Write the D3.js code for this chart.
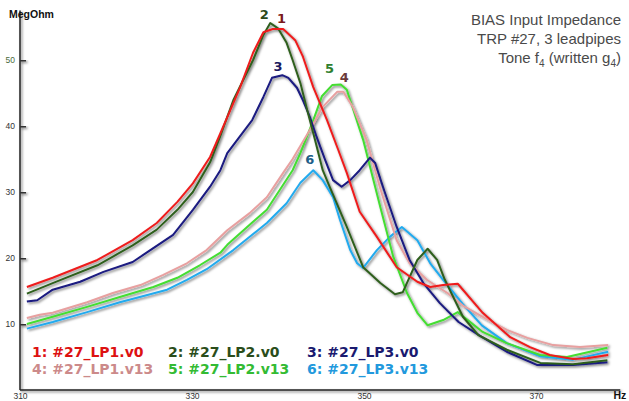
<!DOCTYPE html>
<html><head><meta charset="utf-8">
<script src="https://cdn.jsdelivr.net/npm/d3@7"></script>
<style>html,body{margin:0;padding:0;background:#fff;}svg{display:block;}</style>
</head><body>
<svg id="chart" width="629" height="401"></svg>
<script>
// ---- data ----
const seriesNames = ["1: #27_LP1.v0","2: #27_LP2.v0","3: #27_LP3.v0","4: #27_LP1.v13","5: #27_LP2.v13","6: #27_LP3.v13"];
const peakLabels = ["1","2","3","4","5","6"];
// label anchors [Hz, MegOhm]
const peakLabelPos = [[340.4,55.6],[338.4,56.2],[340.0,48.3],[347.7,46.7],[346.0,48.0],[343.7,34.2]];
const xTicks = [310,330,350,370];
const yTicks = [10,20,30,40,50];

const s1 = [[310.8,15.6],[313.8,17.0],[319,19.7],[323.1,22.7],[325.9,25.3],[328.3,28.5],[330.1,31.3],[332.1,35.3],[333.3,38.9],[335.6,45.9],[337.1,51.1],[338.3,54.2],[339.4,54.7],[340.6,54.7],[342,53],[342.9,50.5],[344.1,45.9],[345.7,40.9],[347.0,36.4],[348,32.9],[349.5,27],[351.5,23.2],[353.8,18.6],[356.2,16.4],[357.7,15.6],[359.2,15.9],[360.9,16.1],[363.8,11.7],[367,8.0],[369.3,6.5],[371.6,5.3],[374.3,4.7],[375.9,4.8],[378.4,5.3]];
const s2 = [[310.8,14.6],[313.8,16.2],[319,18.9],[323.1,21.9],[325.9,24.3],[328.3,27.3],[330.1,30.0],[332.1,34.5],[333.3,38.5],[334.8,43.9],[337.1,50.0],[338.3,53.8],[339.1,55.6],[340,54.8],[341,52.6],[341.7,50],[342.6,46.5],[343.4,42.4],[344.3,37.9],[345.2,33.3],[346,30.8],[348,24.7],[349.9,18.6],[351.9,16.2],[353.6,14.5],[354.5,14.8],[356.2,19.7],[357.4,21.4],[358.5,19.7],[359.4,16.7],[361.5,11.1],[363.3,8.3],[366.6,6.1],[370.5,4.1],[374.3,3.9],[378.3,4.5]];
const s3 = [[310.8,13.4],[312,13.6],[313.8,15.2],[317,16.4],[319.7,17.9],[323.1,19.4],[325.5,21.5],[327.8,23.5],[330.1,27.3],[332.1,30.8],[333.3,33.3],[334.1,35.9],[337,40.9],[338.3,44.4],[339.3,47.3],[340.5,47.7],[341.2,47.3],[342.2,45.8],[342.9,43.9],[343.7,41.4],[344.5,38.3],[345.5,34.8],[346.4,31.8],[347.4,30.8],[348.4,31.8],[349.5,33.3],[350.7,35.2],[351.3,34.4],[352.2,30.8],[353.8,24.7],[355.3,19.7],[356.9,16.2],[358.8,13.2],[361,10.3],[363.5,8.2],[366.6,5.8],[370.1,3.8],[374.3,3.8],[378.3,4.2]];
const s4 = [[310.8,10.9],[312.3,11.4],[313.8,11.7],[317.8,13.3],[320.8,14.7],[324,15.9],[326.6,17.4],[329.4,19.2],[331.7,21.2],[334.1,24.2],[336.7,26.8],[338.7,29.2],[340.6,32.9],[341.7,35.0],[343.7,39.4],[345.2,42.9],[346.9,45.2],[347.6,45.2],[348.7,42.9],[350.3,37.9],[351.9,30.5],[353.8,22.7],[355.3,19.2],[357.3,16.7],[359.7,14.7],[361.5,12.8],[363.5,11.3],[366.6,9.1],[369,7.9],[372,6.8],[375.1,6.5],[378.4,6.8]];
const s5 = [[310.8,10.0],[313.8,11.1],[317.8,12.6],[321.6,14.1],[325.5,15.6],[328.3,17.0],[330.9,18.9],[333.3,20.8],[334.1,22.0],[337.1,25.5],[338.7,27.3],[340.2,30.3],[341.7,33.3],[342.6,35.9],[344,40.5],[345.1,44.5],[346.3,46.2],[347.3,46.3],[348.0,45.5],[349.9,37.9],[351.9,27.7],[353.4,20.2],[355,14.7],[356.2,11.7],[357.4,9.8],[359.2,10.6],[360.9,11.8],[363.8,8.8],[366.6,7.1],[370.5,5.3],[373.6,5.0],[378.3,6.4]];
const s6 = [[310.8,9.3],[313.8,10.3],[317.8,11.8],[321.6,13.3],[324.8,14.4],[327.1,15.2],[329.4,16.7],[331.7,18.3],[334.8,21.2],[338.7,25.3],[341,28.3],[342.6,31.4],[344.1,33.3],[345.2,31.8],[346.4,29.2],[347.2,25.8],[348.4,21.2],[349.2,19.2],[349.9,18.5],[351.5,21.2],[353,23.2],[354.4,24.7],[356.2,22.7],[357.7,19.2],[359.2,16.7],[361.5,13.0],[363.7,9.8],[366.6,7.1],[370.5,5.1],[374.3,4.6],[378.4,5.8]];
const seriesData = [s1,s2,s3,s4,s5,s6];

const lineColors = ["#ee1c1c","#2f5f1f","#1a1a80","#e8a0a0","#44dd33","#22aaee"];
const legendColors = ["#dd1111","#2a4d1a","#1a1a70","#cc8a8a","#33bb33","#2299dd"];
const labelColors = ["#7a1a1a","#2a4a1a","#1a1a60","#6a3a3a","#2f7f2f","#1f5f88"];

// ---- chart ----
const svg = d3.select("#chart");
const defs = svg.append("defs");
const f = defs.append("filter").attr("id","sh").attr("filterUnits","userSpaceOnUse")
  .attr("x",0).attr("y",0).attr("width",629).attr("height",401);
f.append("feDropShadow").attr("dx",1.5).attr("dy",1.5).attr("stdDeviation",0.9)
  .attr("flood-color","#000").attr("flood-opacity",0.5);

const x = d3.scaleLinear().domain([310,380]).range([20,622]);
const y = d3.scaleLinear().domain([0,50]).range([390,60]);

// axis lines
const axG = svg.append("g").attr("filter","url(#sh)");
axG.append("line").attr("x1",x(310)).attr("x2",x(310)).attr("y1",y(57.5)).attr("y2",y(0))
  .attr("stroke","#222").attr("stroke-width",1.5);
axG.append("line").attr("x1",x(310)).attr("x2",x(379.8)).attr("y1",y(0)).attr("y2",y(0))
  .attr("stroke","#222").attr("stroke-width",1.5);

const xAxis = svg.append("g").attr("transform",`translate(0,${y(0)})`)
  .call(d3.axisBottom(x).tickValues(xTicks).tickFormat(d3.format("d")).tickSizeInner(-11).tickSizeOuter(0).tickPadding(3));
xAxis.select(".domain").remove();
xAxis.selectAll(".tick line").attr("stroke","#333").attr("stroke-width",1.2).attr("filter","url(#sh)")
  .filter(d=>d===310).remove();
xAxis.selectAll(".tick line").filter(d=>d===370).attr("y2",-6);
xAxis.selectAll(".tick text").attr("font-family","Liberation Sans, Arial, sans-serif").attr("font-size",8.5).attr("fill","#333");

const yAxis = svg.append("g").attr("transform",`translate(${x(310)},0)`)
  .call(d3.axisLeft(y).tickValues(yTicks).tickSizeInner(-6).tickSizeOuter(0).tickPadding(5));
yAxis.select(".domain").remove();
yAxis.selectAll(".tick line").attr("stroke","#333").attr("stroke-width",2).attr("filter","url(#sh)");
yAxis.selectAll(".tick text").attr("font-family","Liberation Sans, Arial, sans-serif").attr("font-size",8.5)
  .attr("fill",d=>d===50?"#4a6b3a":"#333");

// axis titles
svg.append("text").attr("x",9).attr("y",18).text("MegOhm")
  .attr("font-family","Liberation Sans, Arial, sans-serif").attr("font-weight","bold").attr("font-size",10.5).attr("fill","#111");
svg.append("text").attr("x",x(379.0)).attr("y",y(0)+9).text("Hz")
  .attr("font-family","Liberation Sans, Arial, sans-serif").attr("font-weight","bold").attr("font-size",10.5).attr("fill","#111");

// lines
const line = d3.line().x(d=>x(d[0])).y(d=>y(d[1]));
const lg = svg.append("g").attr("filter","url(#sh)");
[5,4,3,2,1,0].forEach(i=>{
  lg.append("path").datum(seriesData[i]).attr("d",line).attr("fill","none")
    .attr("stroke",lineColors[i]).attr("stroke-width",2).attr("stroke-linejoin","round");
});

// peak labels
svg.append("g").selectAll("text").data(peakLabels).join("text")
  .attr("x",(d,i)=>x(peakLabelPos[i][0])).attr("y",(d,i)=>y(peakLabelPos[i][1]))
  .attr("text-anchor","middle").attr("font-family","DejaVu Sans, Verdana, sans-serif")
  .attr("font-weight","bold").attr("font-size",13).attr("fill",(d,i)=>labelColors[i]).text(d=>d);

// legend
const legX = [32,168,307];
const legY = [357,374];
svg.append("g").selectAll("text").data(seriesNames).join("text")
  .attr("x",(d,i)=>legX[i%3]).attr("y",(d,i)=>legY[Math.floor(i/3)])
  .attr("font-family","DejaVu Sans, Verdana, sans-serif").attr("font-weight","bold").attr("font-size",14)
  .attr("fill",(d,i)=>legendColors[i]).text(d=>d);

// title
const titleLines = ["BIAS Input Impedance","TRP #27, 3 leadpipes"];
const tg = svg.append("g").attr("font-family","Liberation Sans, Arial, sans-serif").attr("font-size",15)
  .attr("fill","#4a4a4a").attr("text-anchor","end");
titleLines.forEach((t,i)=>tg.append("text").attr("x",621).attr("y",25+i*19).text(t));
const t3 = tg.append("text").attr("x",621).attr("y",63);
t3.append("tspan").text("Tone f");
t3.append("tspan").attr("font-size",10).attr("dy",4).text("4");
t3.append("tspan").attr("dy",-4).text(" (written g");
t3.append("tspan").attr("font-size",10).attr("dy",4).text("4");
t3.append("tspan").attr("dy",-4).text(")");
</script>
</body></html>
